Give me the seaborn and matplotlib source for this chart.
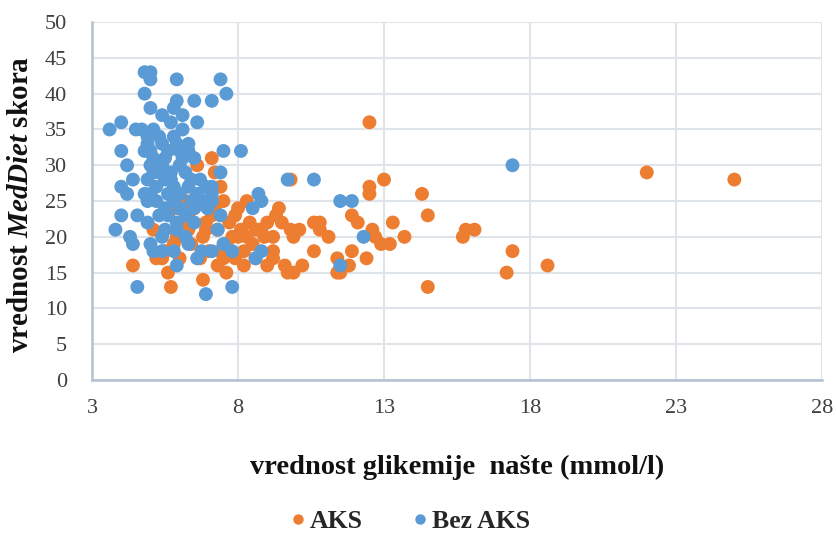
import matplotlib
matplotlib.use("Agg")
import matplotlib.pyplot as plt
import seaborn as sns
import pandas as pd

# Fasting glucose (mmol/l) and MedDiet score, patients with AKS
aks_glucose = [
    4.4, 5.1, 5.2, 5.6, 5.7, 5.9, 6.1, 6.2, 6.0, 5.4, 5.5, 6.3, 6.5, 6.6, 6.8,
    6.8, 6.9, 7.0, 7.1, 7.2, 7.3, 7.3, 7.4, 7.5, 7.6, 7.6, 7.7, 7.9, 8.0, 8.2,
    8.2, 8.3, 8.3, 8.4, 8.6, 8.7, 8.8, 9.0, 9.0, 9.2, 9.2, 9.2, 9.3, 9.4, 9.5,
    9.6, 9.7, 9.8, 9.8, 9.9, 9.9, 10.1, 10.2, 10.6, 10.6, 10.8, 10.8, 11.1,
    11.4, 11.4, 11.5, 11.8, 11.9, 11.9, 12.1, 12.4, 12.5, 12.5, 12.5, 12.6,
    12.7, 12.9, 13.0, 13.2, 13.3, 13.7, 14.3, 14.5, 14.5, 15.7, 15.8, 16.1,
    17.2, 17.4, 18.6, 22.0, 25.0,
    7.0, 7.8, 8.1, 8.5, 6.4, 6.6, 7.2, 5.8, 6.2, 7.5, 6.7, 7.9, 8.6, 6.9,
    7.4, 8.0, 6.3, 5.9, 8.9, 7.1,
]
aks_score = [
    16, 21, 17, 15, 13, 24, 20, 22, 17, 17, 18, 23, 24, 30, 20,
    14, 22, 25, 31, 29, 16, 21, 27, 25, 15, 19, 22, 23, 24, 18,
    16, 25, 20, 22, 21, 21, 21, 16, 22, 20, 18, 17, 23, 24, 22,
    16, 15, 28, 21, 20, 15, 21, 16, 18, 22, 22, 21, 20,
    17, 15, 15, 16, 18, 23, 22, 17, 36, 27, 26, 21,
    20, 19, 28, 19, 22, 20, 26, 23, 13, 20, 21, 21,
    15, 18, 16, 29, 28,
    18, 20, 21, 19, 19, 26, 24, 19, 25, 17, 17, 17, 17, 21,
    18, 20, 21, 20, 20, 23,
]

# Fasting glucose (mmol/l) and MedDiet score, patients without AKS
bez_glucose = [
    4.8, 5.0, 5.0, 5.9, 7.4, 7.6, 4.8, 5.9, 6.5, 7.1, 5.0, 5.8, 5.4, 6.1, 5.7,
    6.6, 4.0, 3.6, 4.5, 4.7, 5.1, 5.8, 4.9, 6.3, 5.4, 4.0, 7.5, 8.1, 4.8, 6.0,
    6.3, 5.0, 4.2, 7.4, 4.4, 4.0, 4.2, 7.1, 7.1, 7.1, 8.7, 8.8, 8.5, 4.0, 4.55,
    7.4, 9.7, 10.6, 11.5, 11.9, 17.4, 12.3, 11.5, 8.6, 8.8, 7.8, 7.5, 7.1, 7.3,
    7.8, 6.9, 4.55, 5.9, 6.6, 6.75, 6.3, 5.4, 5.5, 5.9, 4.9, 3.8, 4.3, 4.4, 5.0,
    5.1, 5.4, 5.8, 5.3, 5.6, 5.5, 6.5, 6.95, 6.2,
    4.9, 5.0, 5.2, 5.5, 5.3, 5.0, 5.5, 6.0, 6.2, 5.8, 6.4, 6.6, 5.2, 5.8, 6.0,
    5.1, 5.9, 6.5, 6.3, 5.6, 4.9, 5.3, 6.1, 6.8, 6.7, 5.7, 6.0, 4.8, 5.4, 6.9,
    6.5, 6.2, 5.1, 5.6, 6.1, 4.9, 5.7, 6.4, 5.2, 5.9,
]
bez_score = [
    43, 43, 42, 42, 42, 40, 40, 39, 39, 39, 38, 38, 37, 37, 36,
    36, 36, 35, 35, 35, 35, 34, 34, 33, 33, 32, 32, 32, 32, 32,
    32, 32, 30, 29, 28, 27, 26, 27, 26, 25, 26, 25, 24, 23, 23,
    23, 28, 28, 25, 25, 30, 20, 16, 17, 18, 18, 19, 18, 21,
    13, 12, 13, 16, 17, 18, 19, 20, 21, 22, 22, 21, 20, 19, 19,
    18, 18, 18, 23, 23, 24, 24, 24, 23,
    25, 26, 27, 28, 29, 30, 31, 30, 29, 27, 28, 26, 25, 25, 24,
    31, 33, 31, 27, 26, 28, 34, 35, 25, 28, 29, 26, 26, 30, 27,
    22, 20, 29, 32, 31, 33, 28, 25, 30, 21,
]

groups = ["AKS", "Bez AKS"]
palette = {"AKS": "#ED7D31", "Bez AKS": "#5B9BD5"}

df = pd.concat([
    pd.DataFrame({"glukoza": aks_glucose, "skor": aks_score, "grupa": groups[0]}),
    pd.DataFrame({"glukoza": bez_glucose, "skor": bez_score, "grupa": groups[1]}),
], ignore_index=True)

sns.set_theme(style="white")
plt.rcParams["font.family"] = ["Liberation Serif", "DejaVu Serif"]
plt.rcParams["mathtext.fontset"] = "custom"
plt.rcParams["mathtext.rm"] = "Liberation Serif"
plt.rcParams["mathtext.bf"] = "Liberation Serif:bold"
plt.rcParams["mathtext.it"] = "Liberation Serif:italic"
plt.rcParams["mathtext.bfit"] = "Liberation Serif:italic:bold"

fig = plt.figure(figsize=(8.37, 5.35), dpi=100)
ax = fig.add_axes([0.110, 0.2897, 0.872, 0.669])

sns.scatterplot(data=df, x="glukoza", y="skor", hue="grupa", hue_order=groups,
                palette=palette, s=100, linewidth=0, alpha=1.0, ax=ax,
                legend=False, zorder=3)

ax.set_xlim(3, 28)
ax.set_ylim(0, 50)
ax.set_xticks([3, 8, 13, 18, 23, 28])
ax.set_yticks(range(0, 51, 5))
ax.tick_params(axis="y", length=0, labelsize=16, pad=18)
ax.tick_params(axis="x", length=0, labelsize=16, pad=14)
for lab in ax.get_xticklabels() + ax.get_yticklabels():
    lab.set_color("#404040")

grid_color = "#dfe3ea"
ax.grid(True, color=grid_color, linewidth=1.5, zorder=0)
ax.set_axisbelow(True)
for side in ["top", "right"]:
    ax.spines[side].set_visible(False)
for side in ["left", "bottom"]:
    ax.spines[side].set_color("#b4c0d2")
    ax.spines[side].set_linewidth(1.8)

ax.set_xlabel("vrednost glikemije  našte (mmol/l)", fontsize=20.5, fontweight="bold",
              color="#111111")
ax.xaxis.set_label_coords(0.5, -0.21)
ax.set_ylabel(r"$\mathbf{vrednost}\ \mathbfit{MedDiet}\ \mathbf{skora}$",
              fontsize=21, color="#111111")
ax.yaxis.set_label_coords(-0.08, 0.49)

handles = [plt.Line2D([], [], marker="o", linestyle="", markersize=7.5,
                      markerfacecolor=palette[g], markeredgewidth=0) for g in groups]
fig.legend(handles, groups, loc="lower center", bbox_to_anchor=(0.492, -0.04),
           ncol=2, frameon=False, handlelength=0.3, handletextpad=0.3,
           columnspacing=2.1,
           prop={"family": "Liberation Serif", "weight": "bold", "size": 18.5})

fig.savefig("out.png", dpi=100)
